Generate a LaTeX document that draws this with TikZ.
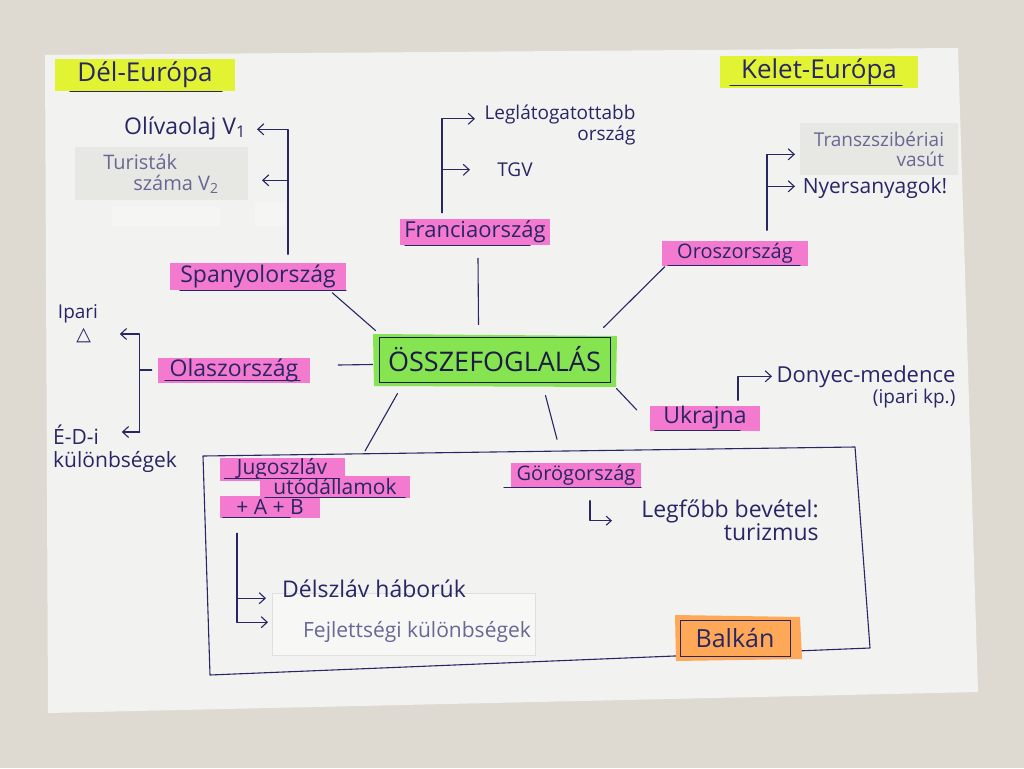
\documentclass[tikz,border=0pt]{standalone}
\usepackage{fontspec}
\setmainfont{Open Sans}
\newfontfamily\symfont{DejaVu Sans}
\usetikzlibrary{arrows.meta,calc}
\definecolor{ink}{RGB}{40,38,100}
\definecolor{paper}{RGB}{242,242,241}
\definecolor{bgc}{RGB}{222,218,209}
\definecolor{hpink}{RGB}{243,122,206}
\definecolor{hyellow}{RGB}{226,243,52}
\definecolor{hgreen}{RGB}{134,228,80}
\definecolor{horange}{RGB}{255,168,88}
\definecolor{sticky}{RGB}{231,231,228}
\definecolor{stickyw}{RGB}{247,247,246}
\definecolor{tape}{RGB}{245,245,244}
\newcommand\fsz[2]{\fontsize{#1}{#2}\selectfont}
\begin{document}
\begin{tikzpicture}[x=1pt,y=-1pt,
  pen/.style={draw=ink,line width=1.1pt,line cap=round,line join=round},
  arr/.style={pen,-{Straight Barb[length=6pt,width=11pt]}},
  t/.style={text=ink,inner sep=0pt},
  hl/.style={fill=hpink,text=ink,inner sep=0pt},
  yl/.style={fill=hyellow,text=ink,inner sep=0pt},
  ul/.style={draw=ink,line width=0.9pt,line cap=round}]
\useasboundingbox (0,0) rectangle (1024,768);
\fill[bgc] (0,0) rectangle (1024,768);
\fill[paper] (45,55) -- (958,48) -- (978,692) -- (48,713) -- cycle;
% faint tape strips
\fill[tape] (112,207) rectangle (220,226);
\fill[tape] (255,203) rectangle (285,226);
% headings
\node[yl,minimum width=180,minimum height=32,font=\fsz{26}{28}] (del) at (145,75) {Dél-Európa};
\draw[ul] ($(del.south west)+(15,0)$) -- ($(del.south east)+(-13,0)$);
\node[yl,minimum width=198,minimum height=31,font=\fsz{26}{28}] (kel) at (819,72) {Kelet-Európa};
\draw[ul] ($(kel.south west)+(10,-2)$) -- ($(kel.south east)+(-16,-2)$);
% centre
\fill[hgreen] (373,334) -- (617,336) -- (616,387) -- (374,386) -- cycle;
\node[draw=ink!70!black,line width=1pt,minimum width=231,minimum height=45,inner sep=0pt,text=ink!70!black,font=\fsz{27}{29}] (osz) at (494.5,359.5) {ÖSSZEFOGLALÁS};
% Spanyolország
\node[t,font=\fsz{23}{25}] (oliva) at (185,128) {Olívaolaj V\textsubscript{1}};
\node[fill=sticky,minimum width=173,minimum height=53,inner sep=0pt,text=ink!70,align=left,font=\fsz{20}{21}] (st1) at (161,173.5) {Turisták\\\hspace*{1.5em}száma V\textsubscript{2}};
\node[hl,minimum width=176,minimum height=27,font=\fsz{23}{25}] (spa) at (258,276) {Spanyolország};
\draw[ul] ($(spa.south west)+(10,1)$) -- ($(spa.south east)+(0,1)$);
\draw[arr] ($(spa.north)+(30,-8)$) |- ++(-31,-125);
\draw[arr] ($(spa.north)+(30,-82)$) -- ++(-26,0);
% Franciaország
\node[t,align=right,font=\fsz{19}{19}] (leg) at (560,125) {Leglátogatottabb\\ország};
\node[t,font=\fsz{19}{21}] (tgv) at (515,170) {TGV};
\node[hl,minimum width=150,minimum height=26,font=\fsz{22}{24}] (fra) at (475,232) {Franciaország};
\draw[ul] ($(fra.south west)+(5,0)$) -- ($(fra.south east)+(-20,0)$);
\draw[arr] ($(fra.north)+(-33,-6)$) |- ++(33,-94);
\draw[arr] ($(fra.north)+(-33,-49)$) -- ++(28,0);
% Oroszország
\node[fill=sticky,minimum width=158,minimum height=52,inner sep=0pt,text=ink!70,align=right,font=\fsz{19}{20}] (st2) at (879,149) {Transzszibériai\\vasút};
\node[t,font=\fsz{21}{23}] (nyers) at (875,188) {Nyersanyagok!};
\node[hl,minimum width=146,minimum height=25,font=\fsz{20}{22}] (oro) at (735,253) {Oroszország};
\draw[ul] ($(oro.south west)+(6,0)$) -- ($(oro.south east)+(-8,0)$);
\draw[arr] ($(oro.north)+(32,-10)$) |- ++(28,-76);
\draw[arr] ($(oro.north)+(32,-54)$) -- ++(28,0);
% Olaszország
\node[t,align=center,font=\fsz{19}{22}] (ipari) at (78,324) {Ipari\\\hspace*{0.6em}{\symfont △}};
\node[t,align=left,anchor=west,font=\fsz{21}{23}] (edi) at (53,449) {É-D-i\\különbségek};
\node[hl,minimum width=152,minimum height=25,font=\fsz{23}{25}] (ola) at (234,370) {Olaszország};
\draw[ul] ($(ola.south west)+(7,-2)$) -- ($(ola.south east)+(-10,-2)$);
\draw[pen] ($(ola.west)+(-6,0)$) -- ++(-12,0);
\draw[arr] ($(ola.west)+(-18,62)$) |- ++(-20,-98);
\draw[arr] ($(ola.west)+(-18,62)$) -- ++(-18,0);
% Ukrajna
\node[hl,minimum width=110,minimum height=25,font=\fsz{23}{25}] (ukr) at (705,418) {Ukrajna};
\draw[ul] ($(ukr.south west)+(5,0)$) -- ($(ukr.south east)+(-20,0)$);
\node[t,align=right,font=\fsz{22}{21}] (don) at (866,387) {Donyec-medence\\{\fsz{19}{21}(ipari kp.)}};
\draw[arr] ($(ukr.north)+(33,-5)$) |- ++(34,-24);
% centre spokes
\draw[pen] ($(spa.south east)+(-14,3)$) -- ($(osz.north west)+(-3,-6)$);
\draw[pen] ($(fra.south)+(3,13)$) -- ($(osz.north)+(-16,-12)$);
\draw[pen] ($(oro.south west)+(3,1)$) -- ($(osz.north east)+(-7,-9)$);
\draw[pen] ($(ola.east)+(28,-5)$) -- ($(osz.west)+(-6,5)$);
\draw[pen] ($(osz.south east)+(6,6)$) -- ($(ukr.west)+(-13,-8)$);
% Balkán box
\draw[pen] (203,456) -- (855,447) -- (870,648) -- (210,675) -- cycle;
\coordinate (bt) at (365,451);
\draw[pen] ($(osz.south west)+(19,11)$) -- (bt);
% Jugoszláv
\node[hl,minimum width=125,minimum height=23,font=\fsz{21}{23}] (jug1) at (282,469) {Jugoszláv};
\node[hl,minimum width=150,minimum height=22,font=\fsz{21}{23}] (jug2) at (335,487) {utódállamok};
\node[hl,minimum width=100,minimum height=22,font=\fsz{21}{23}] (jug3) at (270,507) {+ A + B};
\draw[ul] ($(jug1.south west)+(5,-2)$) -- ($(jug1.south east)+(-5,-2)$);
\draw[ul] ($(jug2.south west)+(5,-1)$) -- ($(jug2.south east)+(-5,-1)$);
\draw[ul] ($(jug3.south west)+(3,-1)$) -- ($(jug3.south east)+(-30,-1)$);
\node[fill=stickyw,draw=black!12,minimum width=263,minimum height=62,inner sep=0pt] (st3) at (403.5,624) {};
\node[t,font=\fsz{23}{25}] (dels) at (374,589) {Délszláv háborúk};
\node[t,text=ink!70,font=\fsz{21}{23}] (fejl) at (417,632) {Fejlettségi különbségek};
\draw[arr] ($(jug3.south)+(-33,15)$) |- ++(31,89);
\draw[arr] ($(jug3.south)+(-33,80)$) -- ++(29,0);
% Görögország
\node[hl,minimum width=130,minimum height=25,font=\fsz{20}{22}] (gor) at (576,475) {Görögország};
\draw[ul] ($(gor.south west)+(-7,0)$) -- ($(gor.south east)+(0,0)$);
\draw[pen] ($(osz.south)+(51,13)$) -- ($(gor.north)+(-19,-23)$);
\draw[pen,-{Straight Barb[length=5pt,width=9pt]}] ($(gor.south)+(14,13)$) |- ++(22,20);
\node[t,align=right,font=\fsz{23}{22}] (legf) at (730,520) {Legfőbb bevétel:\\turizmus};
% Balkán label
\fill[horange] (675,615) -- (800,617) -- (802,659) -- (676,661) -- cycle;
\node[draw=ink,line width=1pt,minimum width=110,minimum height=36,inner sep=0pt,text=ink,font=\fsz{25}{27}] (bal) at (735,638) {Balkán};
\end{tikzpicture}
\end{document}
